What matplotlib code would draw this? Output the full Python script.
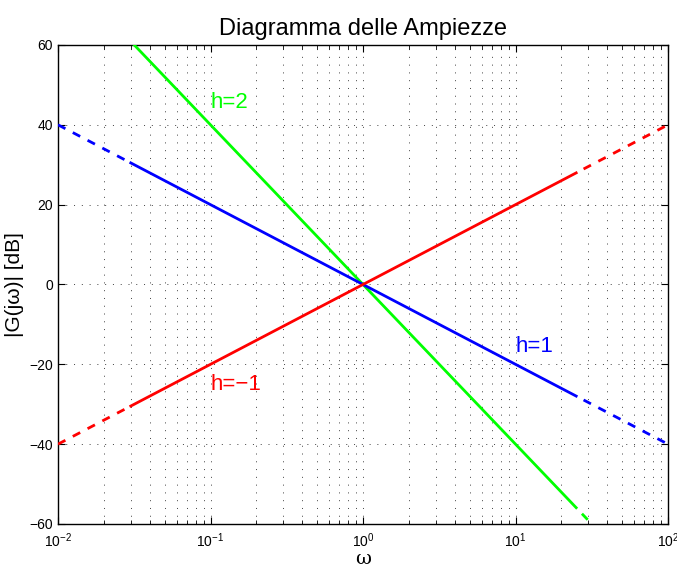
import numpy as np
import matplotlib.pyplot as plt
from matplotlib.ticker import LogLocator, NullFormatter, FixedLocator

plt.rcParams['font.family'] = ['Liberation Sans', 'DejaVu Sans']

# asymptotic magnitude: |G| = -20*h*log10(w)
h_vals = [2, 1, -1]
colors = ['#00ff00', '#0000ff', '#ff0000']
labels = ['h=2', 'h=1', 'h=\u22121']
label_pos = [(0.1, 45.5), (10, -15.5), (0.1, -25)]
w_solid = [0.03, 25]      # solid segment
w_range = [0.01, 100]     # full axis range
y_ticks = np.arange(-60, 61, 20)

fig = plt.figure(figsize=(6.77, 5.68), dpi=100)
ax = fig.add_axes([0.0857, 0.0775, 0.9010, 0.8433])

w_lo = np.logspace(np.log10(w_range[0]), np.log10(w_solid[0]), 50)
w_mid = np.logspace(np.log10(w_solid[0]), np.log10(w_solid[1]), 200)
w_hi = np.logspace(np.log10(w_solid[1]), np.log10(w_range[1]), 50)

for h, c in zip(h_vals, colors):
    mag = -20 * h * np.log10(w_mid)
    ax.plot(w_mid, mag, color=c, lw=2, zorder=3)
    if h != 2:
        ax.plot(w_lo, -20 * h * np.log10(w_lo), color=c, lw=2,
                ls=(0, (3, 3)), zorder=3)
    # right-hand dashed part starts with a gap
    ax.plot(w_hi, -20 * h * np.log10(w_hi), color=c, lw=2,
            ls=(3, (3, 3)), zorder=3)

for (x, y), txt, c in zip(label_pos, labels, colors):
    ax.text(x, y, txt, color=c, fontsize=16, ha='left', va='center')

ax.set_xscale('log')
ax.set_xlim(w_range)
ax.set_ylim(-60, 60)
ax.yaxis.set_major_locator(FixedLocator(y_ticks))
ax.xaxis.set_minor_locator(LogLocator(base=10, subs=np.arange(2, 10)))
ax.xaxis.set_minor_formatter(NullFormatter())
ax.set_yticklabels([str(v).replace('-', '\u2212') for v in y_ticks])

grid_kw = dict(ls=(0, (1, 7)), color='#404040', lw=0.7)
ax.grid(True, which='major', **grid_kw)
ax.grid(True, which='minor', axis='x', **grid_kw)
ax.tick_params(which='both', direction='in', top=True, right=True, labelsize=10)
ax.tick_params(which='major', length=5)
ax.tick_params(which='minor', length=3)
ax.tick_params(axis='x', which='major', pad=5)
for s in ax.spines.values():
    s.set_linewidth(1.0)

ax.set_title('Diagramma delle Ampiezze', fontsize=17, pad=7)
ax.set_xlabel('\u03c9', fontsize=14, family='DejaVu Serif', labelpad=0)
ax.set_ylabel('|G(j\u03c9)| [dB]', fontsize=15, labelpad=4)

fig.savefig('out.png', dpi=100)
